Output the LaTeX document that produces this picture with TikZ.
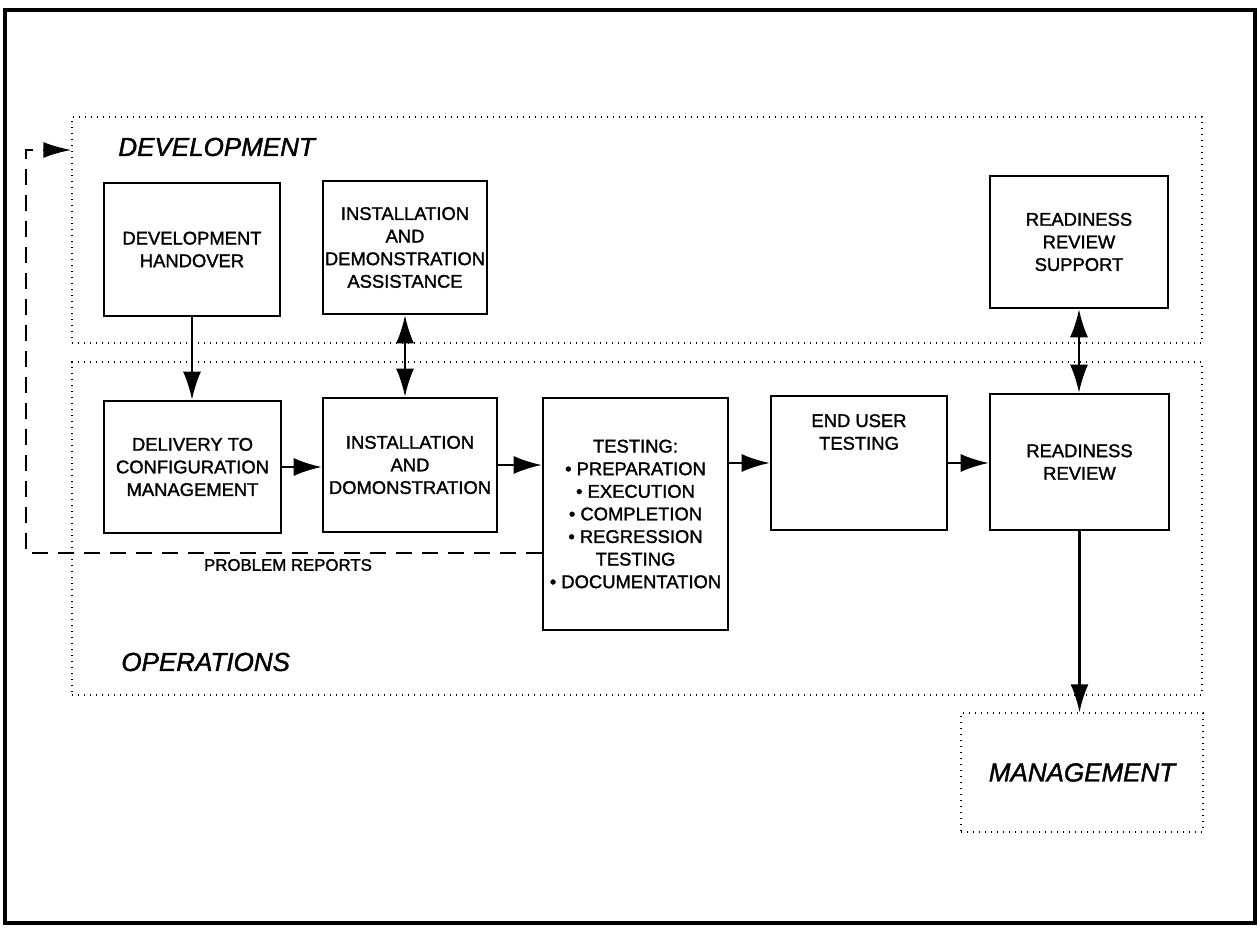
\documentclass[tikz,border=0pt]{standalone}
\usepackage{fontspec}
\setmainfont{Liberation Sans}
\newfontfamily\scanfont[BoldFont={Liberation Sans}, BoldFeatures={FakeBold=1.5}, BoldItalicFont={Liberation Sans Italic}, BoldItalicFeatures={FakeBold=1.5}]{Liberation Sans}
\usetikzlibrary{arrows.meta}
\tikzset{
	box/.style={draw, line width=1.3pt, align=center, inner sep=0pt, font=\scanfont\bfseries\fontsize{9.2}{11.3}\selectfont},
	boxtext/.style={align=center, inner sep=0pt, font=\scanfont\bfseries\fontsize{9.2}{11.3}\selectfont},
	region/.style={draw, line width=.7pt, dash pattern=on .7pt off 2.3pt, inner sep=0pt},
	areafont/.style={font=\scanfont\bfseries\itshape\fontsize{13}{15}\selectfont},
	arrow/.style={-{Latex[length=14pt,width=9pt]}, line width=1.1pt},
	darrow/.style={{Latex[length=14pt,width=9pt]}-{Latex[length=14pt,width=9pt]}, line width=1.1pt},
	feedback/.style={-{Latex[length=14pt,width=8pt]}, line width=1pt, dash pattern=on 8pt off 5pt}
}
\begin{document}
\begin{tikzpicture}[x=.5pt,y=-.5pt]
		
		\useasboundingbox (0,0) rectangle (1258,929);
		\draw[line width=1.6pt] (5,10) rectangle (1255,923);
		
		\node[region, minimum width=565pt, minimum height=113pt] (dev) at (637,230) {};
		\node[region, minimum width=565pt, minimum height=166.5pt] (ops) at (637,528.5) {};
		\node[region, areafont, minimum width=121pt, minimum height=59.5pt] (mgmt) at (1082,772.5) {MANAGEMENT};
		\node[areafont, anchor=west, inner sep=0pt] (devlbl) at (118,147) {DEVELOPMENT};
		\node[areafont, anchor=west, inner sep=0pt] (opslbl) at (121,662) {OPERATIONS};
		
		\node[box, minimum width=88pt, minimum height=66.5pt] (dh) at (192,249.5) {DEVELOPMENT\\HANDOVER};
		\node[box, minimum width=82pt, minimum height=66.5pt] (ida) at (405,247.5) {INSTALLATION\\AND\\DEMONSTRATION\\ASSISTANCE};
		\node[box, minimum width=89pt, minimum height=66pt] (rrs) at (1079,242) {READINESS\\REVIEW\\SUPPORT};
		\node[box, minimum width=88.5pt, minimum height=66pt] (dcm) at (192.5,467) {DELIVERY TO\\CONFIGURATION\\MANAGEMENT};
		\node[box, minimum width=87pt, minimum height=67pt] (id) at (410,465) {INSTALLATION\\AND\\DOMONSTRATION};
		\node[box, minimum width=92.5pt, minimum height=116pt] (test) at (635.5,514) {TESTING:\\• PREPARATION\\• EXECUTION\\• COMPLETION\\• REGRESSION\\TESTING\\• DOCUMENTATION};
		\node[box, minimum width=88pt, minimum height=67pt] (eut) at (859,463) {};
		\node[boxtext] (euttxt) at (859,432) {END USER\\TESTING};
		\node[box, minimum width=89.5pt, minimum height=68pt] (rr) at (1079.5,462) {READINESS\\REVIEW};
		
		\draw[arrow] (dh.south) -- (dh.south |- dcm.north);
		\draw[darrow] (ida.south) -- (ida.south |- id.north);
		\draw[darrow] (rrs.south) -- (rrs.south |- rr.north);
		\draw[arrow] (dcm.east) -- (dcm.east -| id.west);
		\draw[arrow] (id.east) -- (id.east -| test.west);
		\draw[arrow] (test.east |- eut.west) -- (eut.west);
		\draw[arrow] (eut.east) -- (eut.east -| rr.west);
		\draw[arrow] (rr.south) -- (rr.south |- mgmt.north);
		
		\coordinate (fbcorner) at (26,553);
		\coordinate (fbtop) at (26,150);
		\draw[feedback] (test.west |- fbcorner) -- (fbcorner) -- (fbtop) -- (fbtop -| dev.west);
		\node[boxtext, font=\scanfont\bfseries\fontsize{8.4}{10}\selectfont] (problbl) at (288,565) {PROBLEM REPORTS};
		
	\end{tikzpicture}
\end{document}
